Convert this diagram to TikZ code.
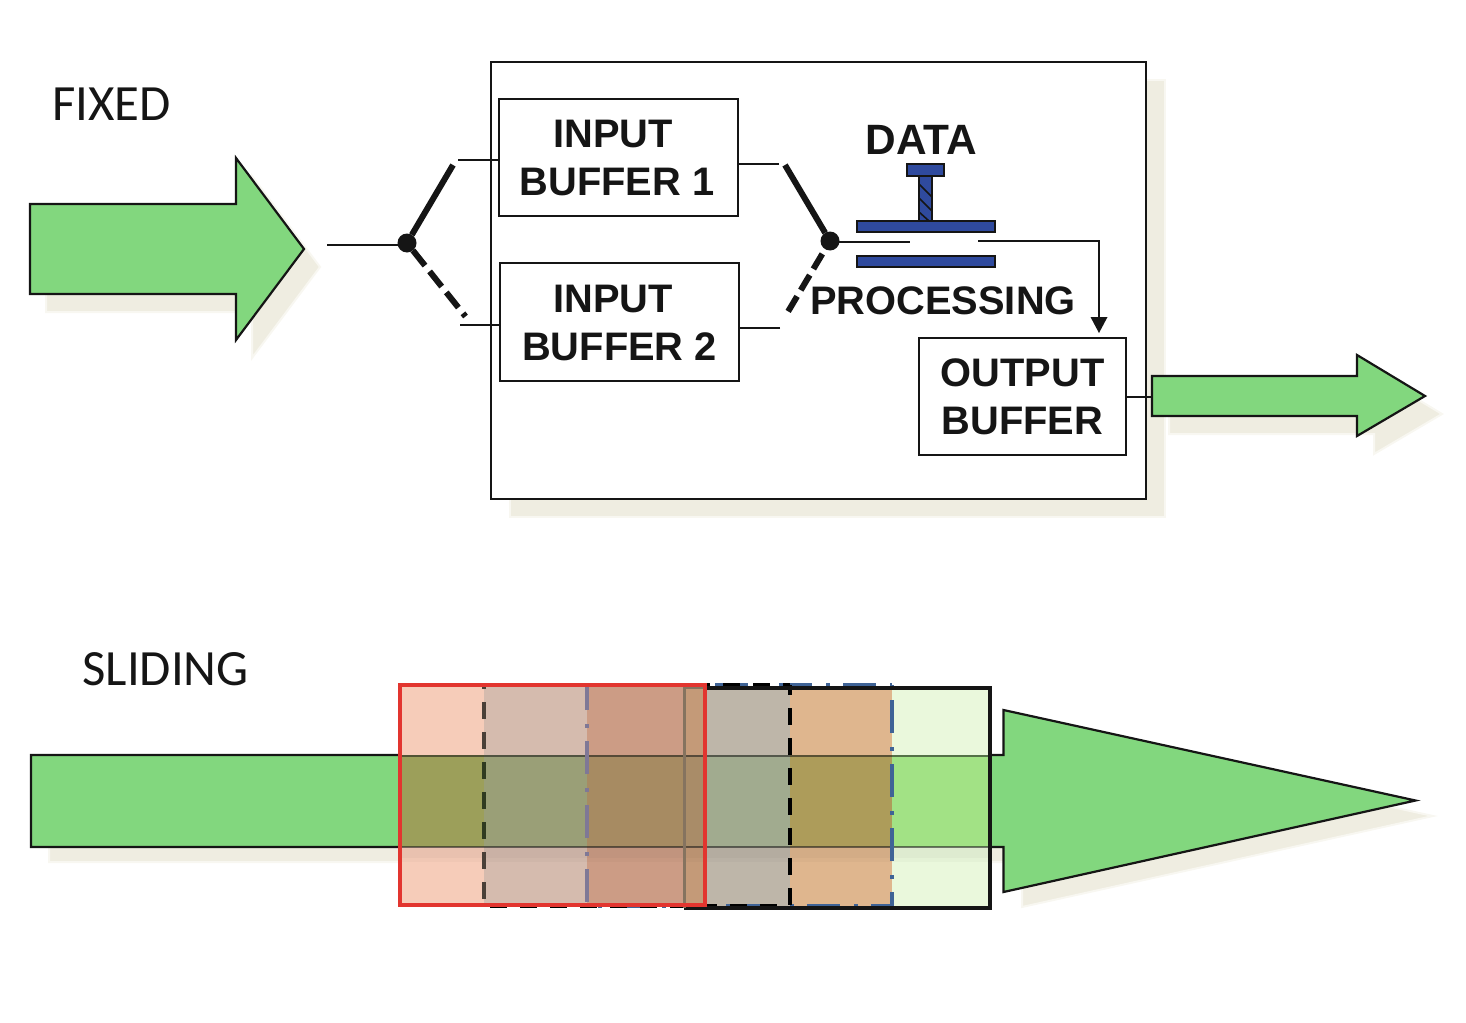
\documentclass[tikz,border=0pt]{standalone}
\usepackage{fontspec}
\setmainfont{Liberation Sans}
\newfontfamily\calib{Carlito}
\usetikzlibrary{arrows.meta}
\definecolor{ink}{HTML}{151515}
\definecolor{shade}{HTML}{EFEDE1}
\definecolor{shadesoft}{HTML}{F8F7F1}
\definecolor{arrowgreen}{HTML}{82D77E}
\definecolor{plate}{HTML}{2F4A9E}
\definecolor{winred}{HTML}{E2352F}
\definecolor{winblue}{HTML}{3F6396}
\definecolor{dashunder}{HTML}{4A4038}
\definecolor{dashgreen}{HTML}{2F3A20}
\definecolor{blueunder}{HTML}{7F7896}
\definecolor{edgeunder}{HTML}{85735F}
\tikzset{
  x=0.5pt,y=-0.5pt,
  thinline/.style={draw=ink,line width=1pt},
  bufftext/.style={font=\fontsize{19.9}{24}\selectfont\bfseries,text=ink,align=center,inner sep=0pt},
  titletext/.style={font=\calib\fontsize{25.4}{28}\selectfont,text=ink,inner sep=0pt},
  swsolid/.style={draw=ink,line width=3pt},
  swdashA/.style={draw=ink,line width=3pt,dash pattern=on 9.7pt off 3.7pt},
  swdashB/.style={draw=ink,line width=3pt,dash pattern=on 8.75pt off 3.6pt,shorten <=2.75pt},
  swdot/.style={circle,fill=ink,minimum size=9.5pt,inner sep=0pt,outer sep=0pt},
  bigarrow/.style={fill=arrowgreen,draw=ink,line width=1.1pt,line join=miter},
  shadowfill/.style={fill=shade,draw=shadesoft,line width=1pt},
  platebar/.style={fill=plate,draw=ink,line width=.9pt},
  boxed/.style={draw=ink,line width=1pt,fill=white,anchor=north west,inner sep=0pt,outer sep=0pt},
  blackdash/.style={line width=1.75pt,dash pattern=on 8.5pt off 6.5pt},
  bluedash/.style={line width=1.75pt,dash pattern=on 16.5pt off 7pt on 2pt off 6.5pt},
}
\newcommand{\seg}[4]{% x0 x1 base overgreen
  \definecolor{segbase}{HTML}{#3}\definecolor{segover}{HTML}{#4}
  \fill[segbase] (#1,687) rectangle (#2,906);
  \fill[segover] (#1,755) rectangle (#2,847);
  \fill[black,opacity=.05] (#1,847) rectangle (#2,858);
  \fill[black,opacity=.025] (#1,858) rectangle (#2,862);
}
\begin{document}
\begin{tikzpicture}
\useasboundingbox (0,0) rectangle (1466,1022);
% shadows
\path[shadowfill] (510,80) rectangle (1165,517);
\path[shadowfill] (46,222) -- (252,222) -- (252,176) -- (320,267) -- (252,358) -- (252,312) -- (46,312) -- cycle;
\path[shadowfill] (1169,394) -- (1374,394) -- (1374,373) -- (1442,414) -- (1374,454) -- (1374,434) -- (1169,434) -- cycle;
\path[shadowfill] (49,771) -- (1022,771) -- (1022,726) -- (1433,816) -- (1022,907) -- (1022,862) -- (49,862) -- cycle;
% main box
\node[boxed,minimum width=327.5pt,minimum height=218.5pt] (mainbox) at (491,62) {};
% green arrows
\path[bigarrow] (30,204) -- (236,204) -- (236,158) -- (304,249) -- (236,340) -- (236,294) -- (30,294) -- cycle;
\path[bigarrow] (1152,376) -- (1357,376) -- (1357,355) -- (1425,396) -- (1357,436) -- (1357,416) -- (1152,416) -- cycle;
\coordinate (aoutw) at (1152,397);
\path[bigarrow] (31,755) -- (1003.5,755) -- (1003.5,710) -- (1415.5,800.5) -- (1003.5,892) -- (1003.5,847) -- (31,847) -- cycle;
% buffers
\node[boxed,minimum width=119.5pt,minimum height=58.5pt] (ib1) at (499,99) {};
\node[boxed,minimum width=119.5pt,minimum height=59pt] (ib2) at (500,263) {};
\node[boxed,minimum width=103.5pt,minimum height=58.5pt] (ob) at (919,338) {};
\node[bufftext] (t1a) at (613,134) {INPUT};
\node[bufftext] (t1b) at (617,182) {BUFFER 1};
\node[bufftext] (t2a) at (613,299) {INPUT};
\node[bufftext] (t2b) at (619.5,347) {BUFFER 2};
\node[bufftext] (t3a) at (1022.5,373) {OUTPUT};
\node[bufftext] (t3b) at (1022.5,421) {BUFFER};
\node[bufftext,font=\fontsize{21.2}{24}\selectfont\bfseries] (tdata) at (921.5,139.5) {DATA};
\node[bufftext,font=\fontsize{19.9}{24}\selectfont\bfseries] (tproc) at (943,300.5) {PROCESSING};
\node[titletext,anchor=west] (tfixed) at (52,104.5) {FIXED};
\node[titletext,anchor=west] (tslide) at (82,669.5) {SLIDING};
% input switch
\node[swdot] (sw1) at (407,243) {};
\coordinate (sw1in) at (327,245);
\coordinate (sw1up) at (453,165);
\coordinate (sw1dn) at (465.5,316.5);
\coordinate (st1) at (458,160);
\coordinate (st2) at (460,325);
\draw[thinline] (sw1in) -- (sw1in -| sw1);
\draw[swsolid] (sw1) -- (sw1up);
\draw[swdashA] (sw1) -- (sw1dn);
\draw[thinline] (st1) -- (st1 -| ib1.west);
\draw[thinline] (st2) -- (st2 -| ib2.west);
% output switch
\node[swdot] (sw2) at (830,241) {};
\coordinate (sw2up) at (785,165);
\coordinate (sw2dn) at (786,315);
\coordinate (st3) at (779,164);
\coordinate (st4) at (780,328);
\coordinate (gateL) at (910,242);
\coordinate (gateR) at (978,241);
\coordinate (corner) at (1099,241);
\draw[swsolid] (sw2) -- (sw2up);
\draw[swdashB] (sw2) -- (sw2dn);
\draw[thinline] (st3) -- (st3 -| ib1.east);
\draw[thinline] (st4) -- (st4 -| ib2.east);
\draw[thinline] (gateL -| sw2) -- (gateL);
\draw[thinline] (gateR) -- (corner) -- (1099,320);
\fill[ink] (1099,333) -- (1090.5,317) -- (1107.5,317) -- cycle;
\draw[thinline] (ob.east |- aoutw) -- (aoutw);
% transistor
\draw[platebar] (919,176) rectangle (932,221);
\draw[ink,line width=.8pt] (919,184) -- (932,197) (919,198) -- (932,211) (919,212) -- (929,221);
\draw[platebar] (907,164) rectangle (944,176);
\draw[platebar] (857,221) rectangle (995,232);
\draw[platebar] (857,256) rectangle (995,267);
% sliding windows
\seg{399}{484}{F6CCB9}{9C9F5A}
\seg{484}{587}{D5BBAE}{9A9F77}
\seg{587}{684}{CC9C85}{A78B62}
\seg{684}{705}{C49A78}{A98C68}
\seg{705}{790}{BEB6A9}{A1AB8F}
\seg{790}{892}{DFB68E}{AD9C5A}
\seg{892}{990}{EAF8DC}{A2E285}
\draw[draw=ink,opacity=.55,line width=1pt] (399,755.5) -- (990,755.5) (399,847) -- (990,847);
% named window corners
\coordinate (wa) at (484,685); \coordinate (wb) at (790,906);
\coordinate (wc) at (587,685); \coordinate (wd) at (892,906);
% blue dash-dot window
\draw[winblue,bluedash] (wc) -- (wc -| wd);
\draw[winblue,bluedash,dash phase=18pt] (wc |- wd) -- (wd);
\draw[winblue,bluedash,dash phase=24.5pt] (wd |- wc) -- (wd);
\draw[blueunder,bluedash,dash phase=4pt] (wc) -- (wc |- wd);
% black dashed window
\draw[black,blackdash,dash phase=.5pt] (wa) -- (wa -| wb);
\draw[black,blackdash,dash phase=12pt] (wa |- wb) -- (wb);
\draw[black,blackdash,dash phase=3.5pt] (wb |- wa) -- (wb);
\draw[dashunder,blackdash,dash phase=6.5pt] (wa) -- (wa |- wb);
\begin{scope}
  \clip (470,755) rectangle (500,847);
  \draw[dashgreen,blackdash,dash phase=6.5pt] (wa) -- (wa |- wb);
\end{scope}
% solid black window
\draw[draw=ink,line width=2pt,line join=miter] (684,908) -- (990,908) -- (990,687.5) -- (705,687.5);
\draw[edgeunder,line width=1.5pt] (705,687.5) -- (684,687.5) -- (684,908);
% red window
\draw[draw=winred,line width=2pt] (399.5,685) rectangle (705,905);
\end{tikzpicture}
\end{document}
